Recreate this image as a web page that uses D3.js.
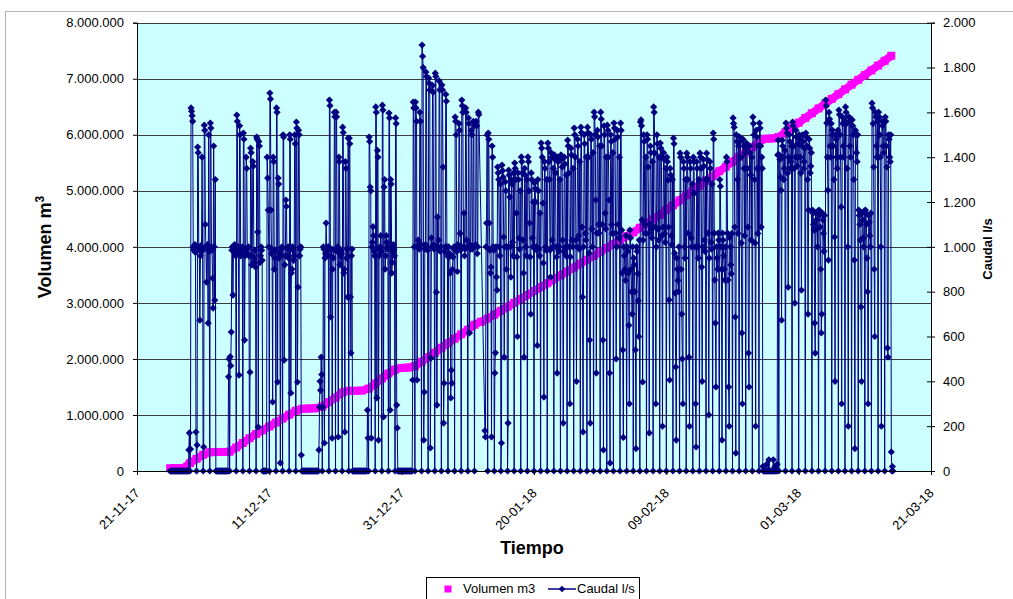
<!DOCTYPE html>
<html>
<head>
<meta charset="utf-8">
<script src="https://cdn.jsdelivr.net/npm/d3@7"></script>
<style>
body{margin:0;background:#fff;}
svg{display:block;font-family:"Liberation Sans",Arial,sans-serif;}
</style>
</head>
<body>
<svg id="chart" width="1013" height="599"></svg>
<script>
// ---------- DATA ----------
const xTickDates = ["2017-11-21","2017-12-11","2017-12-31","2018-01-20","2018-02-09","2018-03-01","2018-03-21"];
const volumenTicks = [0,1000000,2000000,3000000,4000000,5000000,6000000,7000000,8000000];
const caudalTicks = [0,200,400,600,800,1000,1200,1400,1600,1800,2000];
const seriesNames = ["Volumen m3","Caudal l/s"];
const axisTitles = {left:"Volumen m", leftSup:"3", right:"Caudal l/s", bottom:"Tiempo"};

// Volume: one reading per day starting 26-11-17
const volumenStart = "2017-11-26T00:00:00Z";
const volumen = [
 50000,50000,52000,140000,215000,290000,335000,340000,340000,345000,
 420000,500000,585000,660000,725000,795000,865000,935000,1005000,1075000,
 1110000,1115000,1120000,1150000,1230000,1310000,1400000,1430000,1430000,1435000,
 1470000,1560000,1650000,1740000,1810000,1840000,1845000,1870000,1950000,2030000,
 2110000,2200000,2280000,2360000,2440000,2520000,2610000,2665000,2720000,2790000,
 2860000,2930000,3000000,3070000,3140000,3210000,3280000,3350000,3420000,3490000,
 3560000,3630000,3700000,3770000,3840000,3910000,3980000,4050000,4120000,4190000,
 4260000,4340000,4410000,4490000,4570000,4660000,4740000,4830000,4920000,5000000,
 5090000,5180000,5260000,5350000,5430000,5520000,5610000,5690000,5780000,5870000,
 5930000,5935000,5960000,6045000,6130000,6215000,6300000,6385000,6470000,6555000,
 6640000,6725000,6810000,6895000,6980000,7065000,7150000,7235000,7320000,7410000
];

// Flow: one reading every 2 hours starting 26-11-17 00:00 (null = no reading)
const caudalStart = "2017-11-26T00:00:00Z";
const caudalStepHours = 2;
const caudal = [
 0,0,0,0,0,0,0,0,0,0,0,0,
 0,0,0,0,0,0,0,0,0,0,0,0,
 0,0,0,0,0,0,0,0,0,0,94,170,
 0,98,1620,1605,1585,1560,1000,985,990,1010,975,174,
 0,116,1445,1420,1000,990,673,960,1005,980,1400,990,
 0,107,1543,1520,1100,1000,843,990,1010,660,1500,980,
 0,1552,1530,1000,985,860,727,1450,1000,762,1300,0,
 0,0,0,0,0,0,0,0,0,0,0,0,
 0,0,0,0,0,0,0,0,0,0,420,500,
 0,510,470,620,985,1000,785,1000,990,1010,980,960,
 0,1588,1560,980,1000,428,1540,1500,960,990,975,1000,
 0,1508,1480,584,960,990,1400,1350,990,970,1000,960,
 0,441,1440,1420,920,960,1380,1360,950,930,985,910,
 0,1490,1480,1066,196,1470,1450,930,960,1000,985,940,
 0,0,0,0,0,0,0,0,1400,1307,1164,1000,
 0,1686,1660,1164,970,990,308,1400,1380,900,950,985,
 0,1620,1600,397,1307,1280,950,970,36,960,990,1000,
 0,1500,1490,495,920,960,1209,1180,960,990,1000,950,
 0,1500,1480,348,883,900,1000,985,940,960,1500,1460,
 0,1557,1530,397,820,1520,1500,960,990,1000,71,0,
 0,0,0,0,0,0,0,0,0,0,0,0,
 0,0,0,0,0,0,0,0,0,0,0,0,
 0,0,0,0,0,0,94,285,400,360,508,430,
 0,285,1000,990,125,950,970,1106,1000,960,985,1000,
 0,1655,1630,687,960,990,147,900,950,985,1600,1580,
 0,1601,1580,980,1000,152,1400,1380,920,960,985,970,
 0,1534,1510,883,900,174,1380,1350,950,990,776,1485,
 0,1485,1460,776,526,960,990,0,0,0,0,0,
 0,0,0,0,0,0,0,0,0,0,0,0,
 0,0,0,0,0,0,0,0,0,0,272,147,
 0,1490,1470,1267,1250,147,1000,1020,1090,1050,980,960,
 0,1624,1600,326,1430,1400,138,960,990,1000,1050,980,
 0,1632,1610,241,1267,1300,900,960,1050,1020,990,1000,
 0,1597,1575,272,1300,1280,883,930,980,1010,990,960,
 0,1575,1550,294,192,0,0,0,0,0,0,0,
 0,0,0,0,0,0,0,0,0,0,0,0,
 0,0,0,0,0,0,0,0,406,1646,1620,1000,
 0,1646,1620,1560,406,1000,1030,1010,990,1600,1560,1010,
 0,1900,1850,1800,138,352,990,1010,1780,1760,1000,985,
 0,1753,1730,1700,103,504,1040,1000,1720,1690,1010,990,
 0,1775,1760,798,294,1133,1000,1030,1740,1700,980,1000,
 0,1722,1700,1356,214,392,980,1000,1680,1650,1000,960,
 0,1000,955,970,883,326,450,392,900,955,990,1000,
 0,1579,1560,1500,980,890,1010,1000,1550,1520,1060,985,
 0,1655,1630,1600,1000,1150,960,990,1620,1600,1030,1000,
 0,1575,1550,616,1010,990,1520,1500,990,1000,1560,1540,
 0,1000,1010,1560,1540,970,1000,1601,1590,null,null,null,
 null,null,null,null,null,null,null,180,152,1000,1106,1499,
 0,1508,1480,1106,985,883,910,152,1450,1400,1000,985,
 0,437,527,1000,865,807,1356,1330,1300,1000,960,1280,
 0,125,1365,1340,1311,1044,508,1000,1290,1250,900,1000,
 0,214,1342,1320,1222,1000,865,1300,1280,1020,960,1330,
 0,1374,1350,1300,1150,955,600,1330,1300,1040,990,1250,
 0,1401,1380,1329,1030,883,508,1350,1320,1000,960,1300,
 0,1401,1380,1250,1106,955,700,1330,1300,1040,1000,1200,
 0,1285,1260,1200,1000,985,560,1300,1250,990,960,1150,
 0,1463,1440,1400,1195,928,330,1380,1350,1000,985,1300,
 0,1463,1440,1380,1300,985,865,1420,1400,1030,1000,1350,
 0,1410,1390,1330,1000,955,437,1400,1380,980,1000,1300,
 0,1410,1390,1356,1030,214,980,1400,1370,1000,960,1320,
 0,1476,1450,1329,1000,300,955,1440,1410,1030,1000,1350,
 0,1530,1500,1400,1030,400,1000,1480,1450,1050,990,1380,
 0,1534,1510,1088,776,174,1000,1500,1460,1060,1030,1400,
 0,1534,1510,1400,972,584,214,1500,1480,1080,1000,1420,
 0,1601,1580,1500,1209,437,1061,1520,1490,1100,1061,1450,
 0,1601,1570,1450,1100,584,94,1540,1500,1150,1080,1400,
 0,1543,1520,1400,1209,437,36,1500,1470,1100,1060,1420,
 0,1552,1530,1480,1061,500,1000,1520,1490,1100,1040,1400,
 0,1552,1520,1075,883,540,150,1000,960,900,850,1050,
 0,1000,980,883,650,300,1075,1040,900,800,700,1000,
 0,950,920,800,540,100,1000,980,880,760,600,1030,
 0,1557,1566,1540,1120,397,1030,1500,1470,1100,1060,1400,
 0,1500,1480,1356,1060,170,1100,1450,1420,1080,1040,1380,
 0,1624,1600,1418,1088,300,1000,1500,1460,1080,1030,1400,
 0,1463,1440,1400,1050,200,1088,1420,1390,1060,1020,1350,
 0,1400,1380,1298,1088,763,406,1350,1320,1050,1010,1300,
 0,1485,1460,972,794,464,138,950,900,850,800,1000,
 0,1418,1400,900,700,500,300,1380,1350,1000,950,1300,
 0,1418,1400,1300,1061,508,200,1380,1350,1040,1000,1280,
 0,1400,1380,1240,1000,300,107,1380,1350,1000,950,1300,
 0,1418,1400,1350,910,400,1000,1390,1360,1030,980,1300,
 0,1418,1390,1300,1061,250,950,1380,1350,1020,990,1280,
 0,1508,1480,1061,852,660,375,1000,950,900,1061,1030,
 0,1300,1270,1000,900,138,1061,1030,960,900,852,1000,
 0,1400,1380,1061,852,375,200,1040,1000,920,880,1060,
 0,1575,1550,1534,1088,687,80,1500,1470,1300,1060,1450,
 0,1490,1470,1400,1017,616,300,1480,1450,1350,1050,1420,
 0,1463,1440,1350,1088,526,375,1450,1420,1320,1030,1400,
 0,1579,1550,1500,1300,1017,200,1520,1490,1350,1060,1450,
 0,1552,1530,1450,1088,1400,1350,20,0,0,0,0,
 0,0,30,0,0,0,50,0,0,0,0,0,
 0,0,50,0,0,20,0,0,0,30,1410,1476,
 0,1410,1390,1311,1253,673,1476,1450,1400,1300,1350,1430,
 0,1552,1530,1508,1329,820,1400,1500,1470,1350,1380,1450,
 0,1557,1540,1450,1350,749,1400,1520,1490,1360,1400,1460,
 0,1500,1480,1400,1329,807,1450,1500,1470,1350,1380,1440,
 0,1508,1490,1450,1300,700,1164,1480,1440,1330,1360,1420,
 0,1164,1150,1100,1075,660,526,1150,1120,1080,1000,1160,
 0,1164,1140,1088,900,616,700,1150,1120,1060,980,1140,
 0,1655,1630,1552,1400,1253,941,1600,1570,1450,1400,1550,
 0,1521,1500,1450,1300,1044,400,1500,1480,1400,1350,1520,
 0,1610,1590,1500,1400,1178,300,1580,1550,1450,1400,1560,
 0,1624,1600,1550,1350,1000,200,1580,1560,1450,1400,1570,
 0,1566,1540,1500,1300,941,100,1520,1500,1420,1380,1500,
 0,1164,1140,1100,1030,732,400,1150,1120,1040,1000,1160,
 0,1164,1150,1100,950,800,300,1140,1110,1050,1000,1150,
 0,1641,1620,1550,1356,900,600,1600,1580,1450,1400,1560,
 0,1601,1580,1500,1400,1000,200,1560,1540,1450,1420,1560,
 0,1579,1560,1450,1356,549,508,1500,1480,1400,1380,1500,
 85,0,20,0,null,null,null,null,null,null,null,null
];

// ---------- CHART ----------
const svg = d3.select("#chart");
const plot = {left:137, right:931, top:22.7, bottom:471};
const NAVY = "#000080", MAGENTA = "#FF00FF";

const loc = d3.formatLocale({decimal:",", thousands:".", grouping:[3], currency:["",""]});
const fmt = loc.format(",d");
const dateFmt = d3.utcFormat("%d-%m-%y");

const tickDates = xTickDates.map(s => new Date(s + "T00:00:00Z"));
const x = d3.scaleUtc().domain([tickDates[0], tickDates[tickDates.length-1]]).range([plot.left, plot.right]);
const yL = d3.scaleLinear().domain([0, 8000000]).range([plot.bottom, plot.top]);
const yR = d3.scaleLinear().domain([0, 2000]).range([plot.bottom, plot.top]);

// outer border
svg.append("rect").attr("x",5.5).attr("y",11.5).attr("width",1030).attr("height",620)
  .attr("fill","none").attr("stroke","#b4b4b4");

// plot background
svg.append("rect").attr("x",plot.left).attr("y",plot.top)
  .attr("width",plot.right-plot.left).attr("height",plot.bottom-plot.top)
  .attr("fill","#CCFFFF");

// gridlines
svg.append("g").selectAll("line").data(volumenTicks.filter(v=>v>0)).join("line")
  .attr("x1",plot.left).attr("x2",plot.right)
  .attr("y1",d=>Math.round(yL(d))+0.5).attr("y2",d=>Math.round(yL(d))+0.5)
  .attr("stroke","#3c3c3c").attr("stroke-width",1);

// volume series (dense square markers)
const v0 = new Date(volumenStart);
const volData = volumen.map((v,i)=>({t:d3.utcDay.offset(v0,i), v}));
svg.append("path").datum(volData)
  .attr("d", d3.line().x(d=>x(d.t)).y(d=>yL(d.v)))
  .attr("fill","none").attr("stroke",MAGENTA).attr("stroke-width",8);
svg.append("g").selectAll("path").data(volData).join("path")
  .attr("d", d3.symbol(d3.symbolSquare, 64))
  .attr("transform", d=>`translate(${x(d.t)},${yL(d.v)})`)
  .attr("fill", MAGENTA);

// flow series
const c0 = new Date(caudalStart);
const flowData = caudal.map((v,i)=>({t:d3.utcHour.offset(c0,i*caudalStepHours), v}))
  .filter(d=>d.v!==null);
svg.append("path").datum(flowData)
  .attr("d", d3.line().x(d=>x(d.t)).y(d=>yR(d.v)))
  .attr("fill","none").attr("stroke",NAVY).attr("stroke-width",1);
svg.append("g").selectAll("path").data(flowData).join("path")
  .attr("d", d3.symbol(d3.symbolSquare, 26))
  .attr("transform", d=>`translate(${x(d.t)},${yR(d.v)}) rotate(45)`)
  .attr("fill", NAVY);

// left axis
const gL = svg.append("g").attr("transform",`translate(${plot.left},0)`)
  .call(d3.axisLeft(yL).tickValues(volumenTicks).tickFormat(fmt).tickSize(4).tickPadding(9));
// right axis
const gR = svg.append("g").attr("transform",`translate(${plot.right},0)`)
  .call(d3.axisRight(yR).tickValues(caudalTicks).tickFormat(fmt).tickSize(4).tickPadding(8));
gR.selectAll(".tick line").attr("x1",-4);
// bottom axis
const gB = svg.append("g").attr("transform",`translate(0,${plot.bottom})`)
  .call(d3.axisBottom(x).tickValues(tickDates).tickFormat(dateFmt).tickSize(4).tickSizeOuter(0));
gB.selectAll(".tick text")
  .attr("text-anchor","end").attr("dy",null).attr("y",null)
  .attr("transform","translate(3,23) rotate(-45)");

[gL,gR,gB].forEach(g=>{
  g.selectAll("text").attr("font-size",13).attr("font-family","Liberation Sans, Arial, sans-serif").attr("fill","#000");
  g.selectAll("path,line").attr("stroke","#000");
});

// axis titles
const tL = svg.append("text").attr("transform","translate(51,247) rotate(-90)")
  .attr("text-anchor","middle").attr("font-size",18).attr("font-weight","bold").text(axisTitles.left);
tL.append("tspan").attr("font-size",12).attr("dy",-7).text(axisTitles.leftSup);
svg.append("text").attr("transform","translate(992,249) rotate(-90)")
  .attr("text-anchor","middle").attr("font-size",13).attr("font-weight","bold").text(axisTitles.right);
svg.append("text").attr("x",532).attr("y",554)
  .attr("text-anchor","middle").attr("font-size",18).attr("font-weight","bold").text(axisTitles.bottom);

// legend
const lg = svg.append("g");
lg.append("rect").attr("x",426.5).attr("y",577.5).attr("width",213).attr("height",30)
  .attr("fill","#fff").attr("stroke","#000");
lg.append("path").attr("d",d3.symbol(d3.symbolSquare,49)).attr("transform","translate(448,589)").attr("fill",MAGENTA);
lg.append("text").attr("x",463).attr("y",593).attr("font-size",13).text(seriesNames[0]);
lg.append("line").attr("x1",548).attr("x2",576).attr("y1",589).attr("y2",589).attr("stroke",NAVY).attr("stroke-width",1.5);
lg.append("path").attr("d",d3.symbol(d3.symbolSquare,22)).attr("transform","translate(562,589) rotate(45)").attr("fill",NAVY);
lg.append("text").attr("x",577).attr("y",593).attr("font-size",13).text(seriesNames[1]);
</script>
</body>
</html>
